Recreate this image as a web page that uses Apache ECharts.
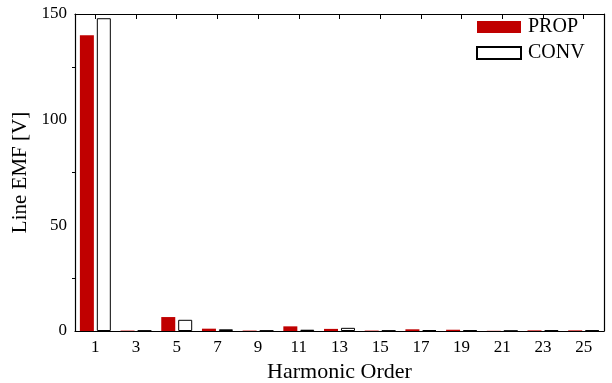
<!DOCTYPE html>
<html>
<head>
<meta charset="utf-8">
<script src="https://cdn.jsdelivr.net/npm/echarts@6/dist/echarts.min.js"></script>
<style>
  html, body { margin: 0; padding: 0; background: #fff; }
  #chart { width: 612px; height: 383px; }
</style>
</head>
<body>
<div id="chart"></div>
<script>
const harmonics = ["1", "3", "5", "7", "9", "11", "13", "15", "17", "19", "21", "23", "25"];
const prop = [140, 0.2, 6.6, 1.1, 0.2, 2.2, 1.0, 0.2, 0.8, 0.6, 0.1, 0.3, 0.3];
const conv = [148, 0.2, 5.3, 0.8, 0.2, 0.6, 1.5, 0.2, 0.4, 0.3, 0.1, 0.3, 0.3];

const font = "'Liberation Serif', 'DejaVu Serif', serif";
const axisLine = { show: true, onZero: false, lineStyle: { color: "#000", width: 1.2 } };

const chart = echarts.init(document.getElementById("chart"));
chart.setOption({
  animation: false,
  grid: { left: 75, right: 8, top: 14, bottom: 52, containLabel: false, outerBoundsMode: "none" },
  legend: {
    left: 471,
    top: 12,
    orient: "vertical",
    itemWidth: 44,
    itemHeight: 12,
    itemGap: 6,
    icon: "rect",
    textStyle: { fontFamily: font, fontSize: 20, color: "#000", padding: [0, 0, 0, 2] },
    data: ["PROP", "CONV"],
  },
  xAxis: [
    {
      type: "category",
      data: harmonics,
      position: "bottom",
      name: "Harmonic Order",
      nameLocation: "middle",
      nameGap: 22,
      nameTextStyle: { fontFamily: font, fontSize: 22, color: "#000" },
      axisLine,
      axisTick: { alignWithLabel: true, length: 4, lineStyle: { color: "#000" } },
      axisLabel: { fontFamily: font, fontSize: 17, color: "#000", margin: 8 },
    },
    {
      type: "category",
      data: harmonics,
      position: "top",
      axisLine,
      axisTick: { show: true, alignWithLabel: true, inside: true, length: 5, lineStyle: { color: "#000" } },
      axisLabel: { show: false },
    },
  ],
  yAxis: [
    {
      type: "value",
      min: 0,
      max: 150,
      interval: 50,
      name: "Line EMF [V]",
      nameLocation: "middle",
      nameGap: 36,
      nameTextStyle: { fontFamily: font, fontSize: 21, color: "#000" },
      axisLine,
      axisTick: { length: 5, lineStyle: { color: "#000" } },
      minorTick: { show: true, splitNumber: 2, length: 3, lineStyle: { color: "#000" } },
      splitLine: { show: false },
      axisLabel: { fontFamily: font, fontSize: 17, color: "#000", margin: 8 },
    },
    {
      type: "value",
      position: "right",
      min: 0,
      max: 150,
      interval: 25,
      axisLine,
      axisTick: { length: 3, lineStyle: { color: "#000" } },
      splitLine: { show: false },
      axisLabel: { show: false },
    },
  ],
  series: [
    {
      name: "PROP",
      type: "bar",
      data: prop,
      barWidth: 14,
      barGap: "21%",
      itemStyle: { color: "#c00000" },
    },
    {
      name: "CONV",
      type: "bar",
      data: conv,
      barWidth: 14,
      itemStyle: { color: "#fff", borderColor: "#000", borderWidth: 1 },
    },
  ],
});
</script>
</body>
</html>
